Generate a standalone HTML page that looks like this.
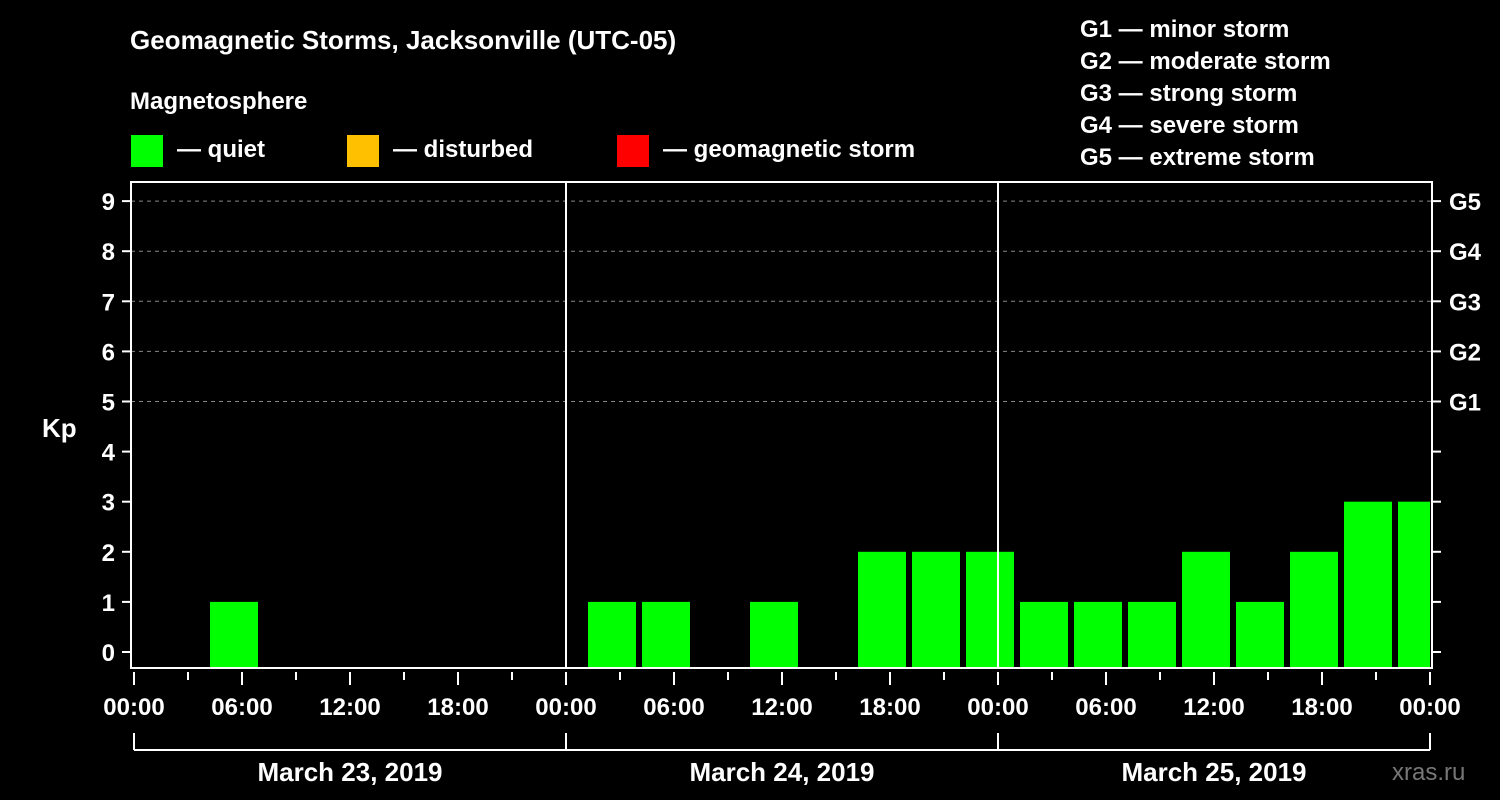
<!DOCTYPE html>
<html><head><meta charset="utf-8"><style>
html,body{margin:0;padding:0;background:#000;}
svg{display:block;font-family:"Liberation Sans",Arial,sans-serif;font-weight:bold;}
</style></head><body>
<svg id="chart" width="1500" height="800" viewBox="0 0 1500 800">
<g><text x="130" y="49" fill="#fff" font-size="26">Geomagnetic Storms, Jacksonville (UTC-05)</text></g>
<text x="130" y="109" fill="#fff" font-size="24">Magnetosphere</text>
<g><rect x="131" y="135" width="32" height="32" fill="#00ff00"/><text x="177" y="157" fill="#fff" font-size="24">— quiet</text></g>
<g><rect x="347" y="135" width="32" height="32" fill="#ffc000"/><text x="393" y="157" fill="#fff" font-size="24">— disturbed</text></g>
<g><rect x="617" y="135" width="32" height="32" fill="#ff0000"/><text x="663" y="157" fill="#fff" font-size="24">— geomagnetic storm</text></g>
<g fill="#fff" font-size="24">
<text x="1080" y="37">G1 — minor storm</text>
<text x="1080" y="69">G2 — moderate storm</text>
<text x="1080" y="101">G3 — strong storm</text>
<text x="1080" y="133">G4 — severe storm</text>
<text x="1080" y="165">G5 — extreme storm</text>
</g>
<text x="42" y="437" fill="#fff" font-size="26">Kp</text>
<text x="1392" y="780" fill="#777" font-size="24" font-weight="normal">xras.ru</text>
<g id="grid"></g>
<g id="bars"></g>
<g id="axes"></g>
</svg>
<script>
const dayLabels = ["March 23, 2019","March 24, 2019","March 25, 2019"];
const slotStartHours = [1,4,7,10,13,16,19,22,25,28,31,34,37,40,43,46,49,52,55,58,61,64,67,70];
const kpValues = [0,1,0,0,0,0,0,0, 1,1,0,1,0,2,2,2, 1,1,1,2,1,2,3,3];
const kpTicks = [0,1,2,3,4,5,6,7,8,9];
const gLabels = ["G1","G2","G3","G4","G5"];
const timeTickLabels = ["00:00","06:00","12:00","18:00"];

const NS="http://www.w3.org/2000/svg";
const X0=131, X1=1432, TOP=182, BOT=668;
const xScale = h => 134 + h*18;
const yScale = v => 652 - v*50.1;
function el(tag, attrs, parent){const e=document.createElementNS(NS,tag);for(const k in attrs)e.setAttribute(k,attrs[k]);parent.appendChild(e);return e;}
const grid=document.getElementById('grid'), bars=document.getElementById('bars'), axes=document.getElementById('axes');

// gridlines 5..9
for(const v of kpTicks){ if(v>=5){
  const l=el('line',{x1:X0,x2:X1,y1:yScale(v),y2:yScale(v),stroke:'#888','stroke-dasharray':'4,4','stroke-width':1},grid);
  
  
}}
// bars
slotStartHours.forEach((h,i)=>{
  const v=kpValues[i]; if(v<=0) return;
  const x=xScale(h)+4; let w=48; if(x+w>X1-2) w=X1-2-x;
  const color = v>=5?'#ff0000':(v>=4?'#ffc000':'#00ff00');
  const r=el('rect',{x:x,y:yScale(v),width:w,height:BOT-1-yScale(v),fill:color},bars);
  
  
});
// frame
const f=el('rect',{x:X0,y:TOP,width:X1-X0,height:BOT-TOP,fill:'none',stroke:'#fff','stroke-width':2},axes);


// day separators
for(let d=1;d<3;d++){
  const l=el('line',{x1:xScale(24*d),x2:xScale(24*d),y1:TOP,y2:BOT,stroke:'#fff','stroke-width':2},axes);
  
  
}
// y ticks
kpTicks.forEach(v=>{
  const y=yScale(v);
  el('line',{x1:122,x2:X0,y1:y,y2:y,stroke:'#fff','stroke-width':2},axes);
  el('line',{x1:X1,x2:1441,y1:y,y2:y,stroke:'#fff','stroke-width':2},axes);
  const t=el('text',{x:115,y:y+9,fill:'#fff','font-size':24,'text-anchor':'end'},axes);
  t.textContent=v;
  
  
});
gLabels.forEach((g,i)=>{
  const t=el('text',{x:1449,y:yScale(5+i)+9,fill:'#fff','font-size':24},axes);
  t.textContent=g;
  
  
});
// x ticks
for(let h=0;h<=72;h+=3){
  const x=xScale(h), major=h%6===0;
  el('line',{x1:x,x2:x,y1:672,y2:major?685:680,stroke:'#fff','stroke-width':2},axes);
  if(major){
    const t=el('text',{x:x,y:715,fill:'#fff','font-size':24,'text-anchor':'middle'},axes);
    t.textContent=timeTickLabels[(h/6)%4];
    
    
  }
}
// day brackets
dayLabels.forEach((d,i)=>{
  const a=xScale(24*i), b=xScale(24*(i+1));
  el('line',{x1:a,x2:b,y1:750,y2:750,stroke:'#fff','stroke-width':2},axes);
  el('line',{x1:a,x2:a,y1:733,y2:750,stroke:'#fff','stroke-width':2},axes);
  if(i===2) el('line',{x1:b,x2:b,y1:733,y2:750,stroke:'#fff','stroke-width':2},axes);
  const t=el('text',{x:(a+b)/2,y:781,fill:'#fff','font-size':26,'text-anchor':'middle'},axes);
  t.textContent=d;
  
  
});
</script>
</body></html>
